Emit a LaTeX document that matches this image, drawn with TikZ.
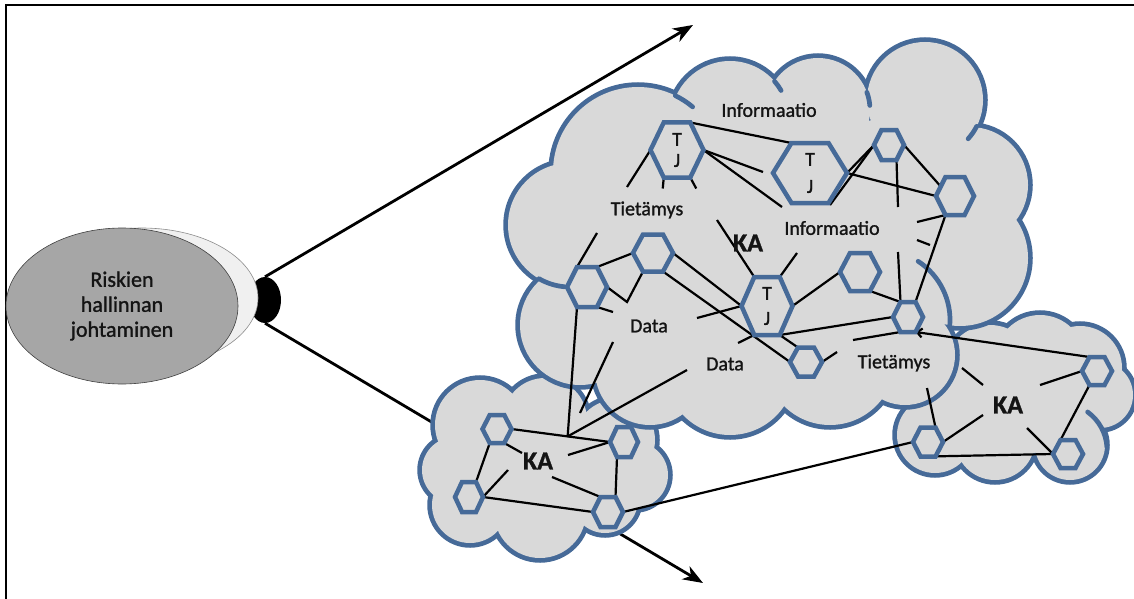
\documentclass[tikz,border=0pt]{standalone}
\usepackage{fontspec}
\setmainfont{Carlito}[FakeBold=1.2]
\usetikzlibrary{arrows.meta,calc,shapes.geometric}

\pgfdeclarelayer{arrowlayer}
\pgfdeclarelayer{cloudlayer}
\pgfdeclarelayer{linklayer}
\pgfsetlayers{arrowlayer,cloudlayer,linklayer,main}

\definecolor{cloudblue}{RGB}{70,106,152}
\definecolor{cloudgray}{RGB}{217,217,217}
\definecolor{ovalgray}{RGB}{166,166,166}
\definecolor{inkcol}{RGB}{20,20,20}

\tikzset{
  cloudedge/.style={draw=cloudblue, line width=9.5pt, fill=cloudgray},
  cloudfill/.style={fill=cloudgray},
  cloudhook/.style={draw=cloudblue, line width=4.7pt, line cap=round},
  hexline/.style={draw=cloudblue, line width=4.5pt, fill=cloudgray, line join=miter},
  hexlabel/.style={inner sep=0pt, outer sep=0pt, text=inkcol,
    font=\fontsize{20}{24}\selectfont, align=center},
  link/.style={line width=2.2pt, black},
  lbl/.style={font=\fontsize{20}{24}\selectfont, inner sep=0pt, text=inkcol},
  kalbl/.style={font=\bfseries\fontsize{26}{30}\selectfont, inner sep=0pt, text=inkcol},
  bigarrow/.style={line width=2.8pt, -{Stealth[length=20pt,width=15pt,inset=6pt]}},
}

% cloud as a union of circles: outline pass, then fill pass
\newcommand\puff[1]{%
  \foreach \cirx/\ciry/\cirr in {#1} {\draw[cloudedge] (\cirx,\ciry) circle[radius=\cirr];}
  \foreach \cirx/\ciry/\cirr in {#1} {\fill[cloudfill] (\cirx,\ciry) circle[radius=\cirr];}
}
% short inner arc of a cloud: centre x, centre y, radius, start, end angle
\newcommand\hook[5]{\draw[cloudhook] (#1,#2) ++(#4:#3) arc[start angle=#4, end angle=#5, radius=#3];}

% hexagon: name, centre, width, height, text
\newcommand\hexa[5]{%
  \path (#2) ++(-#3/2,0) coordinate (#1-w)
        ++(#3/4,-#4/2) coordinate (#1-nw)
        ++(#3/2,0) coordinate (#1-ne)
        ++(#3/4,#4/2) coordinate (#1-e)
        ++(-#3/4,#4/2) coordinate (#1-se)
        ++(-#3/2,0) coordinate (#1-sw);
  \draw[hexline] (#1-w) -- (#1-nw) -- (#1-ne) -- (#1-e) -- (#1-se) -- (#1-sw) -- cycle;
  \node[hexlabel, minimum width=#3pt, minimum height=#4pt] (#1) at (#2) {#5};
}

\begin{document}
\begin{tikzpicture}[x=1pt,y=-1pt]
\useasboundingbox (0,0) rectangle (1134,599);

% frame
\draw[line width=2.5pt, line join=miter] (1134,5) -- (6,5) -- (6,599);

% stacked ovals
\node[ellipse, fill=black, minimum width=32pt, minimum height=46pt, inner sep=0pt] (shadow) at (265,300) {};
\node[ellipse, draw=black!45, line width=0.6pt, fill=white!94!black,
      minimum width=232pt, minimum height=140pt, inner sep=0pt] (rim) at (142,298) {};
\node[ellipse, draw=black!75, line width=0.6pt, fill=ovalgray, text=inkcol,
      minimum width=232pt, minimum height=156pt, inner sep=0pt, align=center,
      font=\fontsize{22}{25}\selectfont] (risk) at (122,306) {Riskien\\hallinnan\\johtaminen};

% the two long arrows
\begin{pgfonlayer}{arrowlayer}
  \coordinate (upend) at (693,25);
  \coordinate (downend) at (703,583);
  \draw[bigarrow] (shadow.north) -- (upend);
  \draw[bigarrow] (shadow.south) -- (downend);
\end{pgfonlayer}

% clouds
\begin{pgfonlayer}{cloudlayer}
  % right cloud
  \puff{935/435/38, 990/370/45, 1040/360/45, 1080/368/42, 1100/395/33,
        1070/445/35, 995/440/40, 1020/400/55, 965/410/32}
  \hook{1060}{450}{47}{-54}{-3}
  % lower left cloud
  \puff{480/425/45, 545/420/42, 615/440/40, 635/475/33, 455/470/33,
        470/505/38, 540/512/46, 605/500/33, 540/465/50, 500/470/32}
  % main cloud
  \puff{570/225/62, 638/172/85, 730/120/59, 818/110/52, 925/100/58,
        970/185/58, 960/258/68, 905/355/50, 830/360/65, 730/370/65,
        650/370/55, 580/325/60, 770/240/130, 880/220/100, 680/260/90, 850/300/80}
  \hook{570}{225}{62}{120}{95}
  \hook{638}{172}{85}{-64}{-50}
  \hook{730}{120}{59}{-41}{-30}
  \hook{818}{110}{52}{-20}{-5}
  \hook{925}{100}{58}{27}{42}
  \hook{880}{320}{70}{-57}{5}
\end{pgfonlayer}

% hexagons of the main cloud
\hexa{h1}{677,150}{53}{55}{T\\[-3pt]J}
\hexa{h2}{810,173}{74}{60}{T\\[3pt]J}
\hexa{h3}{889,145}{30}{30}{}
\hexa{h4}{955,196}{38}{38}{}
\hexa{h5}{653,253}{40}{37}{}
\hexa{h6}{587,287}{40}{40}{}
\hexa{h7}{767,306}{51}{58}{T\\[1pt]J}
\hexa{h8}{860,272}{40}{38}{}
\hexa{h9}{908,317}{30}{30}{}
\hexa{h10}{806,362}{32}{29}{}
% hexagons of the lower left cloud
\hexa{c1}{497,429}{29}{28}{}
\hexa{c2}{624,442}{28}{30}{}
\hexa{c3}{469,497}{28}{30}{}
\hexa{c4}{608,512}{30}{30}{}
% hexagons of the right cloud
\hexa{b1}{1097,371}{30}{28}{}
\hexa{b2}{928,442}{30}{29}{}
\hexa{b3}{1068,454}{30}{28}{}

% labels
\node[lbl] (inf1) at (769,110) {Informaatio};
\node[lbl] (tie1) at (647,210) {Tietämys};
\node[lbl] (inf2) at (832,228) {Informaatio};
\node[kalbl] (ka1) at (748,243) {KA};
\node[lbl] (dat1) at (649,326) {Data};
\node[lbl] (dat2) at (725,364) {Data};
\node[lbl] (tie2) at (894,363) {Tietämys};
\node[kalbl] (ka2) at (1008,405) {KA};
\node[kalbl] (ka3) at (538,461) {KA};

% loose ends of the links
\coordinate (s1) at (763,172);
\coordinate (s2) at (782,207);
\coordinate (s3) at (627,187);
\coordinate (s4) at (830,205);
\coordinate (s5) at (898,207);
\coordinate (s6) at (917,222);
\coordinate (s7) at (917,240);
\coordinate (s8) at (930,245);
\coordinate (s9) at (597,233);
\coordinate (k1) at (627,302);
\coordinate (s10) at (613,312);
\coordinate (s12) at (697,318);
\coordinate (s13) at (717,220);
\coordinate (s14) at (797,253);
\coordinate (s15) at (738,343);
\coordinate (s16) at (853,340);
\coordinate (s17) at (837,352);
\coordinate (s18) at (613,342);
\coordinate (s19) at (580,413);
\coordinate (s20) at (687,370);
\coordinate (s21) at (568,455);
\coordinate (s22) at (522,453);
\coordinate (s23) at (508,470);
\coordinate (s24) at (552,477);
\coordinate (s25) at (1040,385);
\coordinate (s26) at (962,368);
\coordinate (s27) at (983,385);
\coordinate (s28) at (983,415);
\coordinate (s29) at (1027,428);
\coordinate (s30) at (927,388);
\coordinate (s31) at (898,252);

\begin{pgfonlayer}{linklayer}
  % main cloud
  \draw[link] (h1-ne) -- (h2-nw);
  \draw[link] (h1-e) -- (s1);
  \draw[link] (h1-e) -- (s2);
  \draw[link] (h1-w) -- (s3);
  \draw[link] (h1-sw) -- ++(-1,11);
  \draw[link] (h1-se) -- ++(6,11);
  \draw[link] (h2-e) -- (h4-w);
  \draw[link] (h3-w) -- (s4);
  \draw[link] (h3-w) -- (h2-e);
  \draw[link] (h3-se) -- (s5);
  \draw[link] (h3-e) -- ($(h4-w)!0.5!(h4-nw)$);
  \draw[link] (h4-sw) -- (s6);
  \draw[link] (h4-sw) -- (h9-ne);
  \draw[link] (s7) -- (s8);
  \draw[link] (s31) -- (h9-nw);
  \draw[link] (h6-nw) -- (s9);
  \draw[link] (h6-ne) -- (h5-w);
  \draw[link] (h6-e) -- (k1) -- (h5-sw);
  \draw[link] (h6-se) -- (s10);
  \draw[link] (h5-e) -- (h7-w);
  \draw[link] (h5-se) -- (h10-w);
  \draw[link] (s12) -- (h7-w);
  \draw[link] (h7-nw) -- (s13);
  \draw[link] (h7-ne) -- (s14);
  \draw[link] (h7-e) -- (h8-w);
  \draw[link] (h7-se) -- (h9-w);
  \draw[link] (h7-sw) -- (s15);
  \draw[link] (h7-se) -- (h10-nw);
  \draw[link] (h8-se) -- (h9-nw);
  \draw[link] (h9-sw) -- (s16);
  \draw[link] (h10-e) -- (s17);
  \draw[link, -{Straight Barb[length=5pt,width=9pt]}] (b1-nw) -- (h9-se);
  % down into the lower left cloud
  \coordinate (j1) at ($(c1-e)!0.57!(c2-w)$);
  \draw[link] (h6-sw) -- (j1);
  \draw[link] (s18) -- (s19);
  \draw[link] (j1) -- (s20);
  % lower left cloud
  \draw[link] (c1-e) -- (c2-w);
  \draw[link] (s21) -- (c2-w);
  \draw[link] (c1-se) -- (s22);
  \draw[link] (c1-sw) -- (c3-ne);
  \draw[link] (c3-e) -- (s23);
  \draw[link] (c3-e) -- (c4-w);
  \draw[link] (s24) -- (c4-nw);
  \draw[link] (c2-sw) -- (c4-ne);
  \draw[link] (c4-e) -- (b2-w);
  % right cloud
  \draw[link] (b1-w) -- (s25);
  \draw[link] (b1-sw) -- (b3-nw);
  \draw[link] (s26) -- (s27);
  \draw[link] (s28) -- (b2-e);
  \draw[link] (s29) -- (b3-w);
  \draw[link] (b2-ne) -- (s30);
  \draw[link] (b2.south) -- (b3-w);
\end{pgfonlayer}
\end{tikzpicture}
\end{document}
